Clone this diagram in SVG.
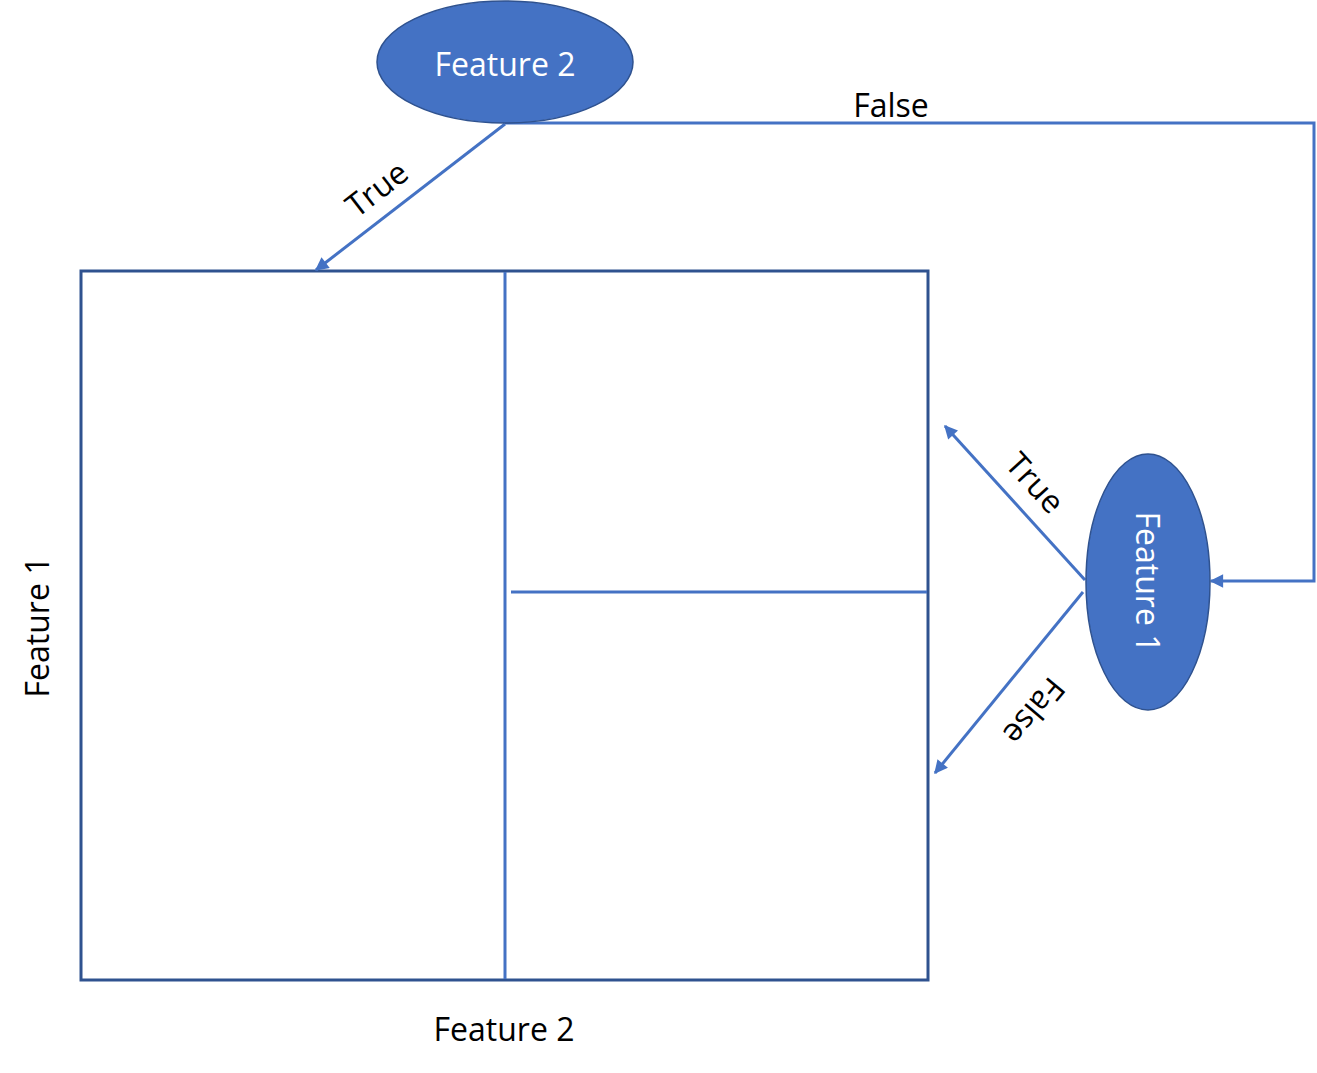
<svg xmlns="http://www.w3.org/2000/svg" width="1317" height="1073" viewBox="0 0 1317 1073">
<defs>
<marker id="arr" viewBox="0 0 10 10" refX="9" refY="5" markerWidth="5" markerHeight="4.5" orient="auto" markerUnits="strokeWidth">
<path d="M0,0 L10,5 L0,10 z" fill="#4472C4"/>
</marker>
<style>
.node{fill:#4472C4;stroke:#2F528F;stroke-width:1.5}
.conn{fill:none;stroke:#4472C4;stroke-width:3;marker-end:url(#arr)}
.wt{font-family:"Open Sans","Liberation Sans",sans-serif;font-size:32px;fill:#fff;text-anchor:middle;dominant-baseline:central}
.bt{font-family:"Open Sans","Liberation Sans",sans-serif;font-size:32px;fill:#000;text-anchor:middle;dominant-baseline:central}
.grid{fill:none;stroke:#4472C4;stroke-width:3}
</style>
</defs>
<rect width="1317" height="1073" fill="#fff"/>
<g id="plot">
<rect x="81" y="271" width="847" height="709" fill="none" stroke="#2F528F" stroke-width="3"/>
<line class="grid" x1="505" y1="272" x2="505" y2="979"/>
<line class="grid" x1="511" y1="592" x2="927" y2="592"/>
<text class="bt" transform="translate(36,627) rotate(-90)">Feature 1</text>
<text class="bt" x="504" y="1028">Feature 2</text>
</g>
<g id="connectors">
<path class="conn" d="M505,124 L316,270"/>
<path class="conn" d="M505,123 L1314,123 L1314,581 L1211,581"/>
<path class="conn" d="M1085,580 L945,426"/>
<path class="conn" d="M1083,592 L935,773"/>
<text class="bt" x="891" y="104">False</text>
<text class="bt" transform="translate(376,188) rotate(-37.7)">True</text>
<text class="bt" transform="translate(1036,482) rotate(47.7)">True</text>
<text class="bt" transform="translate(1035,712) rotate(130)">False</text>
</g>
<g id="node-feature2">
<ellipse class="node" cx="505" cy="62" rx="128" ry="61"/>
<text class="wt" x="505" y="63">Feature 2</text>
</g>
<g id="node-feature1">
<ellipse class="node" cx="1148" cy="582" rx="62" ry="128"/>
<text class="wt" transform="translate(1148,582) rotate(90)">Feature 1</text>
</g>
</svg>
